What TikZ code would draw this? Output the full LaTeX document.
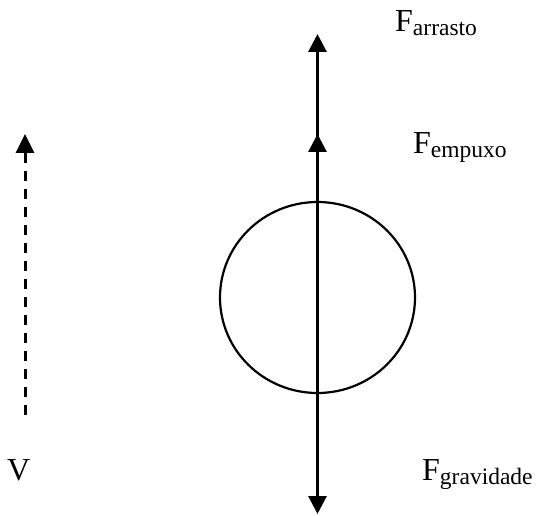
\documentclass[tikz,border=0pt]{standalone}
\usepackage{fontspec}
\setmainfont{Liberation Serif}
\usetikzlibrary{arrows.meta, shapes.geometric}

\newcommand{\forca}[1]{F\raisebox{-4pt}{\fontsize{23.5}{27}\selectfont #1}}

\begin{document}
\begin{tikzpicture}[
    x=1pt, y=-1pt,
    force/.style={line width=3pt, -{Triangle[length=18pt, width=18pt]}},
    speed/.style={line width=3pt, dash pattern=on 10pt off 8pt,
                  -{Triangle[length=19pt, width=18pt]}},
    label/.style={inner sep=0pt, anchor=base west, font=\fontsize{32}{38}\selectfont}
]
    \useasboundingbox (0,0) rectangle (539,516);

    \node[draw, ellipse, line width=2.2pt, minimum width=195pt, minimum height=191pt,
          inner sep=0pt] (bola) at (317.5,297.5) {};

    \coordinate (arrastoTip) at (317.5,34);
    \coordinate (empuxoTip) at (317.5,134);
    \coordinate (gravidadeTip) at (317.5,514);

    \draw[force] (bola.center) -- (arrastoTip);
    \draw[force] (bola.center) -- (empuxoTip);
    \draw[force] (bola.center) -- (gravidadeTip);

    % velocidade
    \coordinate (vBase) at (25,415);
    \coordinate (vTip) at (25,134);
    \draw[speed] (vBase) -- (vTip);

    \node[label] (arrasto) at (395,32) {\forca{arrasto}};
    \node[label] (empuxo) at (413,154) {\forca{empuxo}};
    \node[label] (gravidade) at (422,480) {\forca{gravidade}};
    \node[label] (v) at (7,480) {V};
\end{tikzpicture}
\end{document}
